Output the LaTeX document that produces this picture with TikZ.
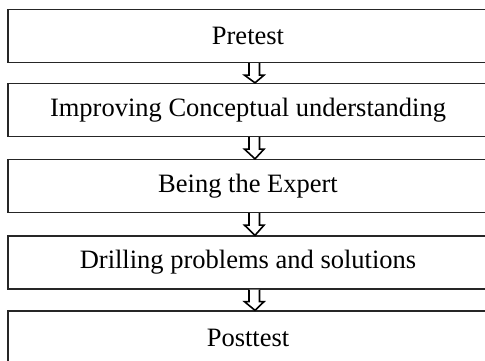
\documentclass[tikz,border=0pt]{standalone}
\usepackage{fontspec}
\setmainfont{Liberation Serif}
\usetikzlibrary{calc}
\begin{document}
\begin{tikzpicture}[x=1pt,y=-1pt,
  stepbox/.style={draw=black!85, line width=1.3pt, rectangle, minimum width=480pt, minimum height=53pt, inner sep=0pt, font=\fontsize{26.5}{30}\selectfont},
  blockarr/.style={draw=black, line width=1.6pt, fill=white, line join=miter}]
\useasboundingbox (0,0) rectangle (485,360);
\clip (0,0) rectangle (485,360);
\node[stepbox] (b1) at (248,36) {Pretest};
\node[stepbox] (b2) at (248,110) {Improving Conceptual understanding};
\node[stepbox] (b3) at (248,186) {Being the Expert};
\node[stepbox] (b4) at (248,262.5) {Drilling problems and solutions};
\node[stepbox] (b5) at (248,337.5) {Posttest};
\coordinate (ax) at (255,0);
\foreach \a/\b in {b1/b2,b2/b3,b3/b4,b4/b5}{
  \draw[blockarr] (\a.south -| ax) ++(-6,0) -- ++(0,12) coordinate (hl) -- ++(-4.5,0)
     -- (\b.north -| ax) -- ($(hl)+(15,0)$) -- ++(-4.5,0) -- ++(0,-12);
}
\end{tikzpicture}
\end{document}
